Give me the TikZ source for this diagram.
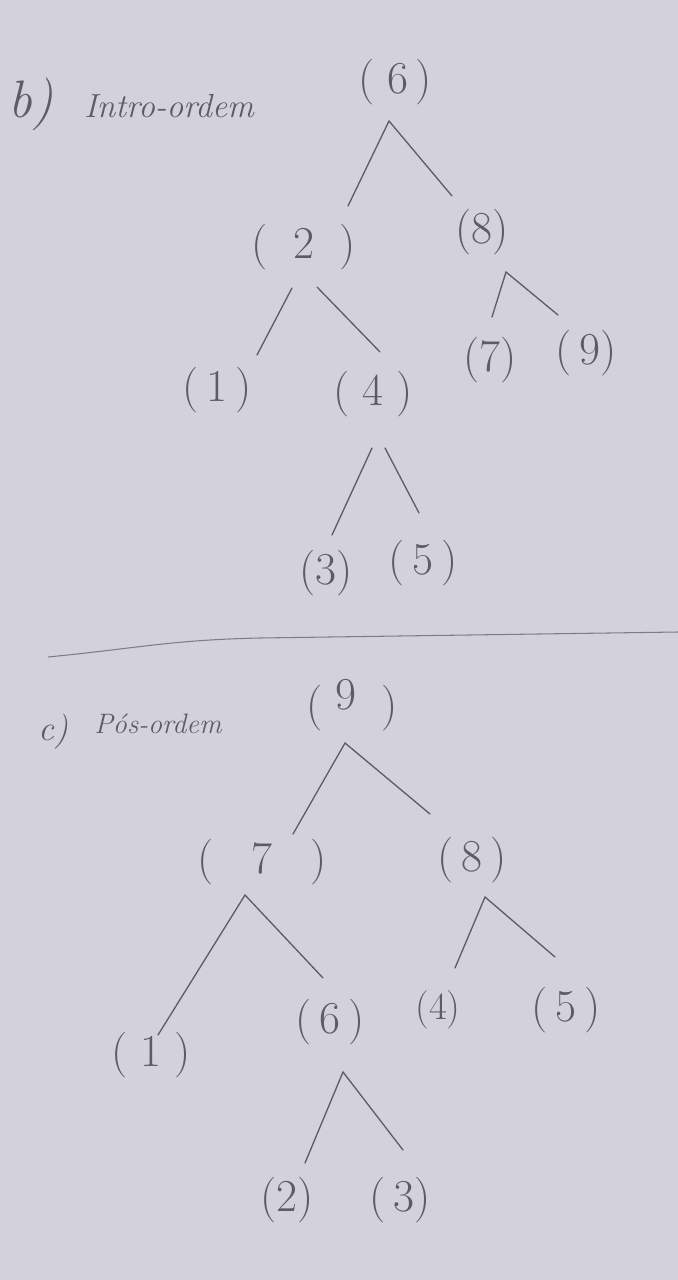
\documentclass[tikz,border=0pt]{standalone}
\usepackage{tikz}
\definecolor{paper}{RGB}{211,210,219}
\definecolor{pencil}{RGB}{92,92,104}
\tikzset{
  nd/.style={inner sep=0pt, text=pencil, font=\fontsize{26}{28}\selectfont},
  ndsmall/.style={inner sep=0pt, text=pencil, font=\fontsize{22}{24}\selectfont},
  lbl/.style={inner sep=0pt, text=pencil, anchor=west},
  edge/.style={draw=pencil, line width=0.75pt, line cap=round},
}
\begin{document}
\begin{tikzpicture}[x=0.02cm, y=-0.02cm]
\fill[paper] (0,0) rectangle (678,1280);
\useasboundingbox (0,0) rectangle (678,1280);

% ---------- labels ----------
\node[lbl, font=\fontsize{30}{32}\selectfont\itshape] (lb) at (8,104) {b)};
\node[lbl, font=\fontsize{19}{21}\selectfont\itshape] (lbt) at (84,106) {Intro-ordem};
\node[lbl, font=\fontsize{20}{22}\selectfont\itshape] (lc) at (38,732) {c)};
\node[lbl, font=\fontsize{16}{18}\selectfont\itshape] (lct) at (94,724) {Pós-ordem};

% ---------- tree b ----------
\node[nd] (b6) at (395,82) {(\;6\,)};
\node[nd] (b2) at (304,247) {(\;\;2\;\;)};
\node[nd] (b8) at (482,232) {(8)};
\node[nd] (b1) at (217,390) {(\,1\,)};
\node[nd] (b4) at (373,394) {(\;4\;)};
\node[nd] (b7) at (490,360) {(7)};
\node[nd] (b9) at (586,353) {(\,9)};
\node[nd] (b3) at (326,573) {(3)};
\node[nd] (b5) at (423,563) {(\,5\,)};

\coordinate (b6a) at (389,121);
\coordinate (b2e) at (348,206);
\coordinate (b8e) at (452,196);
\coordinate (b2al) at (292,288);
\coordinate (b2ar) at (317,287);
\coordinate (b1e) at (257,355);
\coordinate (b4e) at (380,352);
\coordinate (b8a) at (506,272);
\coordinate (b7e) at (492,317);
\coordinate (b9e) at (558,315);
\coordinate (b4al) at (372,448);
\coordinate (b4ar) at (385,448);
\coordinate (b3e) at (332,535);
\coordinate (b5e) at (419,513);

\draw[edge] (b2e) -- (b6a) -- (b8e);
\draw[edge] (b2al) -- (b1e);
\draw[edge] (b2ar) -- (b4e);
\draw[edge] (b7e) -- (b8a) -- (b9e);
\draw[edge] (b4al) -- (b3e);
\draw[edge] (b4ar) -- (b5e);

% ---------- divider ----------
\coordinate (dl) at (48,657);
\coordinate (dr) at (678,632);
\draw[draw=pencil!80, line width=0.6pt] (dl) .. controls (140,648) and (170,640) .. (260,638) -- (dr);

% ---------- tree c ----------
\node[nd] (c9) at (352,705) {(\;\raisebox{6pt}{9}\;\;)};
\node[nd] (c7) at (262,862) {(\;\;\;7\;\;\;)};
\node[nd] (c8) at (472,860) {(\,8\,)};
\node[nd] (c1) at (151,1055) {(\;1\;)};
\node[nd] (c6) at (330,1022) {(\,6\,)};
\node[ndsmall] (c4) at (438,1010) {(4)};
\node[nd] (c5) at (566,1010) {(\,5\,)};
\node[nd] (c2) at (287,1200) {(2)};
\node[nd] (c3) at (400,1200) {(\,3)};

\coordinate (c9a) at (345,743);
\coordinate (c7e) at (293,834);
\coordinate (c8e) at (430,814);
\coordinate (c7a) at (245,895);
\coordinate (c1e) at (158,1035);
\coordinate (c6e) at (323,978);
\coordinate (c8a) at (485,897);
\coordinate (c4e) at (455,968);
\coordinate (c5e) at (555,957);
\coordinate (c6a) at (343,1072);
\coordinate (c2e) at (305,1163);
\coordinate (c3e) at (403,1150);

\draw[edge] (c7e) -- (c9a) -- (c8e);
\draw[edge] (c1e) -- (c7a) -- (c6e);
\draw[edge] (c4e) -- (c8a) -- (c5e);
\draw[edge] (c2e) -- (c6a) -- (c3e);
\end{tikzpicture}
\end{document}
